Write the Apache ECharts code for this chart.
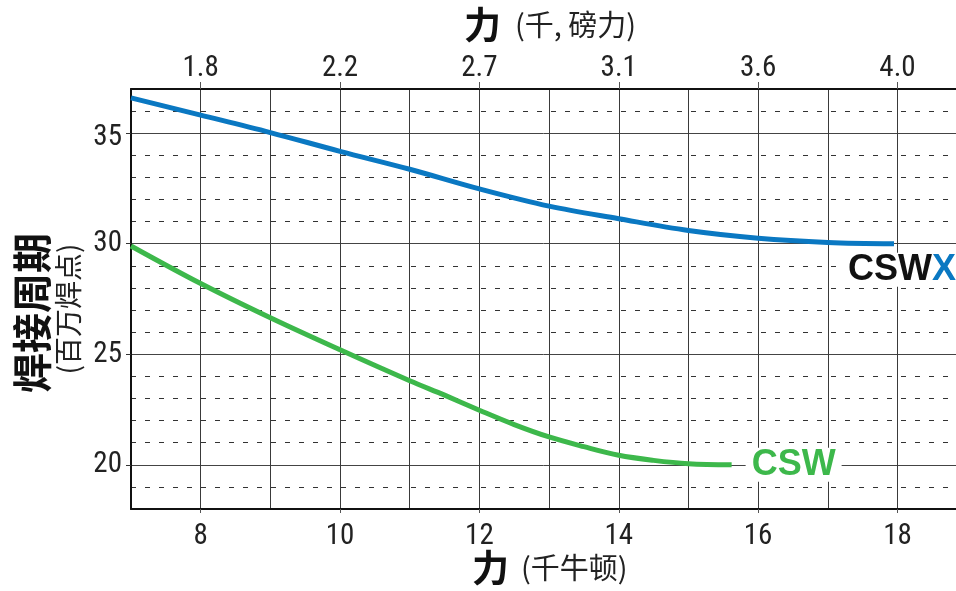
<!DOCTYPE html>
<html><head><meta charset="utf-8">
<script src="https://cdn.jsdelivr.net/npm/echarts@6/dist/echarts.min.js"></script>
<style>html,body{margin:0;padding:0;background:#fff}#c{width:956px;height:591px}</style>
</head><body><div id="c"></div>
<script>
// Force in kN (bottom axis) and welding cycles in millions of welds
const cswxForce = [7, 8, 9, 10, 11, 12, 13, 14, 15, 16, 17, 17.95];
const cswxCycles = [36.6, 35.82, 35.03, 34.18, 33.37, 32.48, 31.7, 31.13, 30.6, 30.25, 30.06, 30.0];
const cswForce = [7, 8, 9, 10, 11, 11.5, 12, 12.5, 13, 13.5, 14, 14.5, 15, 15.62];
const cswCycles = [29.9, 28.2, 26.65, 25.2, 23.8, 23.15, 22.47, 21.82, 21.26, 20.82, 20.43, 20.2, 20.05, 20.0];
const kNTicks = [8, 10, 12, 14, 16, 18];
const kNLabels = ['8', '10', '12', '14', '16', '18'];
const klbfLabels = ['1.8', '2.2', '2.7', '3.1', '3.6', '4.0'];
const cycleTicks = [20, 25, 30, 35];
const cycleLabels = ['20', '25', '30', '35'];

const NUM_FONT = '"Liberation Sans Narrow", "Roboto Condensed", "Roboto", sans-serif';
const CJK_FONT = '"Noto Sans CJK SC", sans-serif';
const LAT_BOLD = '"Liberation Sans", Arial, sans-serif';
const BLUE = '#0a78c2';
const GREEN = '#3db84b';

const zip = (a, b) => a.map((v, i) => [v, b[i]]);
const XMIN = 7, XMAX = 18.84, YMIN = 18, YMAX = 37;

const chart = echarts.init(document.getElementById('c'), null, {renderer: 'canvas'});
chart.setOption({
  animation: false,
  backgroundColor: '#fff',
  grid: {left: 131, right: 0, top: 89, bottom: 82},
  xAxis: [
    {
      type: 'value', min: XMIN, max: XMAX, interval: 1, position: 'bottom',
      axisLine: {show: true, lineStyle: {color: '#111', width: 2}},
      axisTick: {show: false}, axisLabel: {show: false},
      splitLine: {show: true, showMinLine: false, showMaxLine: false, lineStyle: {color: '#3a3a3a', width: 1}}
    },
    {
      type: 'value', min: XMIN, max: XMAX, position: 'top',
      axisLine: {show: true, lineStyle: {color: '#111', width: 2}},
      axisTick: {show: true, customValues: kNTicks, length: 7, lineStyle: {color: '#555', width: 1}},
      axisLabel: {customValues: kNTicks, formatter: v => klbfLabels[kNTicks.indexOf(v)],
        fontSize: 29, fontFamily: NUM_FONT, color: '#222', margin: 6},
      splitLine: {show: false}
    },
    {
      type: 'value', min: XMIN, max: XMAX, position: 'bottom',
      axisLine: {show: false},
      axisTick: {show: true, customValues: kNTicks, length: 4, lineStyle: {color: '#555', width: 1}},
      axisLabel: {customValues: kNTicks, formatter: v => kNLabels[kNTicks.indexOf(v)],
        fontSize: 29, fontFamily: NUM_FONT, color: '#222', margin: 13},
      splitLine: {show: false}
    }
  ],
  yAxis: [
    {
      type: 'value', min: YMIN, max: YMAX, interval: 1,
      axisLine: {show: true, lineStyle: {color: '#111', width: 2}},
      axisTick: {show: false}, axisLabel: {show: false},
      splitLine: {show: true, showMinLine: false, showMaxLine: false,
        lineStyle: {color: '#333', width: 1, type: [5, 9]}}
    },
    {
      type: 'value', min: YMIN, max: YMAX, position: 'left',
      axisLine: {show: false},
      axisTick: {show: true, customValues: cycleTicks, length: 5, lineStyle: {color: '#333', width: 1}},
      axisLabel: {customValues: cycleTicks,
        formatter: v => {
          const t = cycleLabels[cycleTicks.indexOf(v)];
          return v === 35 ? '{low|' + t + '}' : t;
        },
        rich: {low: {fontSize: 29, fontFamily: NUM_FONT, color: '#222', padding: [10, 0, 0, 0]}},
        fontSize: 29, fontFamily: NUM_FONT, color: '#222', margin: 9},
      splitLine: {show: true, lineStyle: {color: '#444', width: 1}}
    }
  ],
  series: [
    {
      name: 'CSWX', type: 'line', xAxisIndex: 0, yAxisIndex: 0,
      data: zip(cswxForce, cswxCycles), showSymbol: false, smooth: 0.35,
      lineStyle: {color: BLUE, width: 5}, itemStyle: {color: BLUE}, z: 5,
      markPoint: {
        symbol: 'circle', symbolSize: 1, itemStyle: {color: 'rgba(0,0,0,0)'},
        data: [{coord: [cswxForce[cswxForce.length - 1], cswxCycles[cswxCycles.length - 1]]}],
        label: {show: true, position: 'inside', offset: [8, 26], formatter: '{a|CSW}{b|X}',
          backgroundColor: '#fff', padding: [0, 5],
          rich: {
            a: {color: '#111', fontSize: 36, fontWeight: 'bold', fontFamily: LAT_BOLD, lineHeight: 34},
            b: {color: BLUE, fontSize: 36, fontWeight: 'bold', fontFamily: LAT_BOLD, lineHeight: 34}
          }}
      }
    },
    {
      name: 'CSW', type: 'line', xAxisIndex: 0, yAxisIndex: 0,
      data: zip(cswForce, cswCycles), showSymbol: false, smooth: 0.35,
      lineStyle: {color: GREEN, width: 5}, itemStyle: {color: GREEN}, z: 5,
      markPoint: {
        symbol: 'circle', symbolSize: 1, itemStyle: {color: 'rgba(0,0,0,0)'},
        data: [{coord: [cswForce[cswForce.length - 1], cswCycles[cswCycles.length - 1]]}],
        label: {show: true, position: 'inside', offset: [62, 0], formatter: 'CSW',
          color: GREEN, fontSize: 36, fontWeight: 'bold', fontFamily: LAT_BOLD,
          lineHeight: 34, backgroundColor: '#fff', padding: [0, 6]}
      }
    }
  ],
  graphic: [
    {type: 'text', x: 464, y: 25, style: {
      text: '{a|力}{b|(千, 磅力)}', align: 'left', verticalAlign: 'middle',
      rich: {a: {fontSize: 37, fontWeight: 'bold', fontFamily: CJK_FONT, fill: '#111'},
             b: {fontSize: 29, fontFamily: CJK_FONT, fill: '#222', padding: [0, 0, 0, 14]}}}},
    {type: 'text', x: 472, y: 568, style: {
      text: '{a|力}{b|(千牛顿)}', align: 'left', verticalAlign: 'middle',
      rich: {a: {fontSize: 37, fontWeight: 'bold', fontFamily: CJK_FONT, fill: '#111'},
             b: {fontSize: 29, fontFamily: CJK_FONT, fill: '#222', padding: [0, 0, 0, 12]}}}},
    {type: 'text', x: 32, y: 313, rotation: Math.PI / 2, style: {
      text: '焊接周期', align: 'center', verticalAlign: 'middle',
      fontSize: 40, fontWeight: 'bold', fontFamily: CJK_FONT, fill: '#111'}},
    {type: 'text', x: 68, y: 309, rotation: Math.PI / 2, style: {
      text: '(百万焊点)', align: 'center', verticalAlign: 'middle',
      fontSize: 28, fontFamily: CJK_FONT, fill: '#222'}}
  ]
});
</script>
</body></html>
